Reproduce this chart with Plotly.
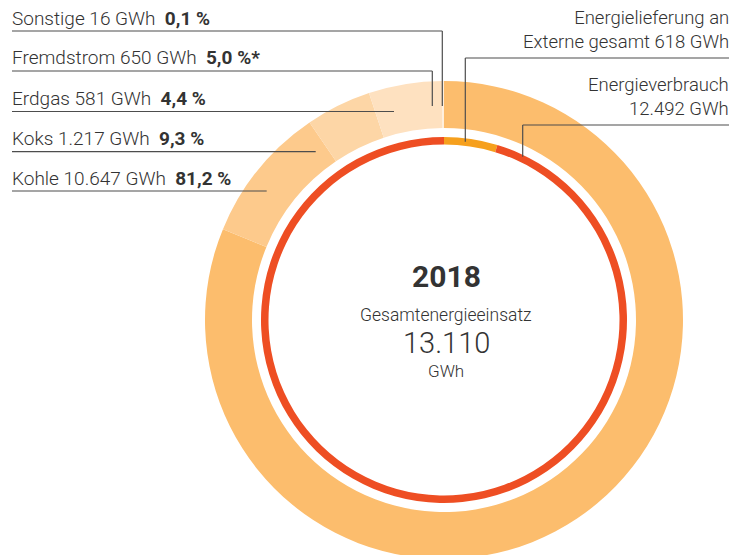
import plotly.graph_objects as go

# ---------------- data ----------------
source_names = ["Kohle", "Koks", "Erdgas", "Fremdstrom", "Sonstige"]
source_gwh = [10647, 1217, 581, 650, 16]
source_pct = [81.2, 9.3, 4.4, 5.0, 0.1]
source_note = ["", "", "", "*", ""]

use_lines1 = ["Energielieferung an", "Energieverbrauch"]
use_lines2 = ["Externe gesamt", ""]
use_gwh = [618, 12492]

year = "2018"
total_label = "Gesamtenergieeinsatz"
total_gwh = 13110

# ---------------- styling ----------------
W, H = 745, 555
OFF = 8  # page body margin
outer_colors = ["#FCBD6D", "#FDCA8C", "#FDD6A6", "#FEE1C0", "#FFEFDC"]
inner_colors = ["#F6A01D", "#EE4E23"]
TXT = "#333333"
LINE = "#4d4d4d"
FONT = "Roboto"
FS = 19


def de_num(v):
    return f"{v:,}".replace(",", ".")


def de_pct(p):
    return f"{p:.1f}".replace(".", ",")


def px(x):
    return (x - OFF) / W


def py(y):
    return 1 - (y - OFF) / H


cx, cy = 444, 320
R_out = 239
R_in = 183

fig = go.Figure()
fig.add_trace(go.Pie(
    values=source_gwh, labels=source_names, sort=False, direction="clockwise",
    rotation=0, hole=192 / R_out, textinfo="none", hoverinfo="label+value",
    marker=dict(colors=outer_colors, line=dict(width=0)),
    domain=dict(x=[px(cx - R_out), px(cx + R_out)], y=[py(cy + R_out), py(cy - R_out)]),
    showlegend=False,
))
fig.add_trace(go.Pie(
    values=use_gwh, labels=["Energielieferung an Externe", "Energieverbrauch"], sort=False,
    direction="clockwise", rotation=0, hole=175.5 / R_in, textinfo="none",
    hoverinfo="label+value",
    marker=dict(colors=inner_colors, line=dict(width=0)),
    domain=dict(x=[px(cx - R_in), px(cx + R_in)], y=[py(cy + R_in), py(cy - R_in)]),
    showlegend=False,
))

annotations = []
shapes = []


def hline(x0, x1, y):
    shapes.append(dict(type="line", xref="paper", yref="paper", x0=px(x0), x1=px(x1),
                       y0=py(y), y1=py(y), line=dict(color=LINE, width=1.2)))


def vline(x, y0, y1):
    shapes.append(dict(type="line", xref="paper", yref="paper", x0=px(x), x1=px(x),
                       y0=py(y0), y1=py(y1), line=dict(color=LINE, width=1.2)))


def text(x, y, s, anchor, size=FS, weight=300):
    annotations.append(dict(x=px(x), y=py(y), xref="paper", yref="paper",
                            xanchor=anchor, yanchor="middle", align=anchor if anchor != "center" else "center",
                            text=s, showarrow=False,
                            font=dict(family=FONT, size=size, color=TXT, weight=weight)))


# left labels (top to bottom: Sonstige ... Kohle)
label_order = [4, 3, 2, 1, 0]
text_y = [18.5, 58, 98, 138, 178]
line_y = [31, 71, 111.5, 151.7, 191]
line_end = [442.3, 432.3, 394, 315.7, 266.7]
for k, i in enumerate(label_order):
    s = (f"{source_names[i]} {de_num(source_gwh[i])} GWh&nbsp;&nbsp;"
         f"<b>{de_pct(source_pct[i])} %{source_note[i]}</b>")
    text(10, text_y[k], s, "left")
    hline(12, line_end[k], line_y[k])
vline(442.3, 31, 106)
vline(432.3, 71, 106)

# right labels
right_y = [30, 97]
right_line_y = [58, 125]
right_line_x = [465.3, 522.7]
right_line_end = [141.7, 156.7]
for k in range(2):
    s2 = f"{use_lines2[k]} {de_num(use_gwh[k])} GWh".strip()
    text(731, right_y[k], f"{use_lines1[k]}<br>{s2}", "right", size=18.5)
    hline(right_line_x[k], 729, right_line_y[k])
    vline(right_line_x[k], right_line_y[k], right_line_end[k])

# centre texts
ccx = 446
text(ccx, 276, f"<b>{year}</b>", "center", size=30, weight=400)
text(ccx, 315, total_label, "center", size=17.5, weight=300)
text(ccx, 343, de_num(total_gwh), "center", size=29, weight=300)
text(ccx, 371, "GWh", "center", size=17, weight=300)

fig.update_layout(
    width=W, height=H, margin=dict(l=0, r=0, t=0, b=0),
    paper_bgcolor="white", plot_bgcolor="white",
    annotations=annotations, shapes=shapes,
    font=dict(family=FONT, color=TXT),
)
fig.write_html("out.html")
